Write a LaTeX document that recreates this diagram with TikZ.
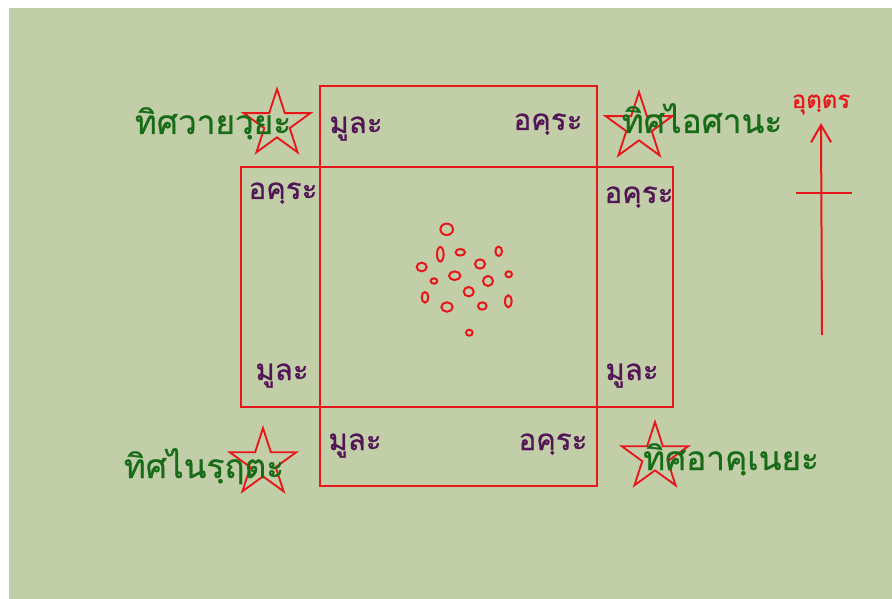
\documentclass[tikz,border=0pt]{standalone}
\usepackage{fontspec}
\newfontfamily\thaifont[Script=Thai,FakeBold=0.8]{Loma}
\usetikzlibrary{shapes.geometric,arrows.meta}
\definecolor{bg}{RGB}{194,206,168}
\definecolor{lred}{RGB}{232,22,26}
\definecolor{lpurple}{RGB}{82,22,86}
\definecolor{lgreen}{RGB}{24,108,24}
\tikzset{
  redline/.style={draw=lred,line width=1.5pt},
  quarter/.style={font=\thaifont\fontsize{22}{24}\selectfont,text=lpurple,anchor=base,inner sep=0pt},
  direction/.style={font=\thaifont\fontsize{25}{27}\selectfont,text=lgreen,anchor=base,inner sep=0pt},
  northlabel/.style={font=\thaifont\fontsize{18}{20}\selectfont,text=lred,anchor=base,inner sep=0pt},
  starmark/.style={star,star points=5,star point ratio=2.618,draw=lred,line width=1.4pt,minimum size=70*0.75pt,inner sep=0pt},
  dot/.style={ellipse,draw=lred,line width=1.5pt,inner sep=0pt}
}
\begin{document}
\begin{tikzpicture}[x=0.75pt,y=-0.75pt]
\useasboundingbox (0,0) rectangle (892,599);
\fill[white] (0,0) rectangle (892,599);
\fill[bg] (9,8) rectangle (892,599);
% rectangles
\draw[redline] (320,86) rectangle (597,486);
\draw[redline] (241,167) rectangle (673,407);
% stars
\node[starmark] (s1) at (277,124) {};
\node[starmark] (s2) at (639,127) {};
\node[starmark] (s3) at (263,463) {};
\node[starmark] (s4) at (655,457) {};
% quarter labels
\node[quarter] (q1) at (356,133) {มูละ};
\node[quarter] (q2) at (548,130) {อคฺระ};
\node[quarter] (q3) at (283,199) {อคฺระ};
\node[quarter] (q4) at (639,203) {อคฺระ};
\node[quarter] (q5) at (282,380) {มูละ};
\node[quarter] (q6) at (632,380) {มูละ};
\node[quarter] (q7) at (355,450) {มูละ};
\node[quarter] (q8) at (553,450) {อคฺระ};
% direction labels
\node[direction] (d1) at (213,134) {ทิศวายวฺยะ};
\node[direction] (d2) at (702,133) {ทิศไอศานะ};
\node[direction] (d3) at (204,478) {ทิศไนรฺฤตะ};
\node[direction] (d4) at (731,470) {ทิศอาคฺเนยะ};
% north arrow
\coordinate (nb) at (822,335);
\coordinate (nt) at (821,123);
\draw[redline,-{Straight Barb[length=13pt,width=15pt,line width=1.5pt]}] (nb) -- (nt);
\coordinate (cl) at (796,193);
\coordinate (cr) at (852,193);
\draw[redline] (cl) -- (cr);
\node[northlabel] (nl) at (821,108) {อุตฺตร};
% ellipses
\node[dot,minimum width=12.6*0.75pt,minimum height=11.4*0.75pt] (e1) at (446.7,229.3) {};
\node[dot,minimum width=6.6*0.75pt,minimum height=14.6*0.75pt] (e2) at (440.3,254.3) {};
\node[dot,minimum width=9.4*0.75pt,minimum height=6.6*0.75pt] (e3) at (460.3,252.3) {};
\node[dot,minimum width=6.6*0.75pt,minimum height=9.4*0.75pt] (e4) at (498.7,251.3) {};
\node[dot,minimum width=10*0.75pt,minimum height=8.6*0.75pt] (e5) at (421.7,267) {};
\node[dot,minimum width=10*0.75pt,minimum height=9.4*0.75pt] (e6) at (480,264) {};
\node[dot,minimum width=11.4*0.75pt,minimum height=8.6*0.75pt] (e7) at (454.7,275.7) {};
\node[dot,minimum width=6.6*0.75pt,minimum height=5.4*0.75pt] (e8) at (434,281) {};
\node[dot,minimum width=10*0.75pt,minimum height=10*0.75pt] (e9) at (488,281) {};
\node[dot,minimum width=6.6*0.75pt,minimum height=6*0.75pt] (e10) at (508.7,274.3) {};
\node[dot,minimum width=10*0.75pt,minimum height=9.4*0.75pt] (e11) at (468.7,291.7) {};
\node[dot,minimum width=6.6*0.75pt,minimum height=10.6*0.75pt] (e12) at (425,297.3) {};
\node[dot,minimum width=11.4*0.75pt,minimum height=9.4*0.75pt] (e13) at (447,307) {};
\node[dot,minimum width=8.6*0.75pt,minimum height=7.4*0.75pt] (e14) at (482.3,306) {};
\node[dot,minimum width=6.6*0.75pt,minimum height=12*0.75pt] (e15) at (508.3,301.3) {};
\node[dot,minimum width=6.6*0.75pt,minimum height=6*0.75pt] (e16) at (469.3,332.7) {};
\end{tikzpicture}
\end{document}
